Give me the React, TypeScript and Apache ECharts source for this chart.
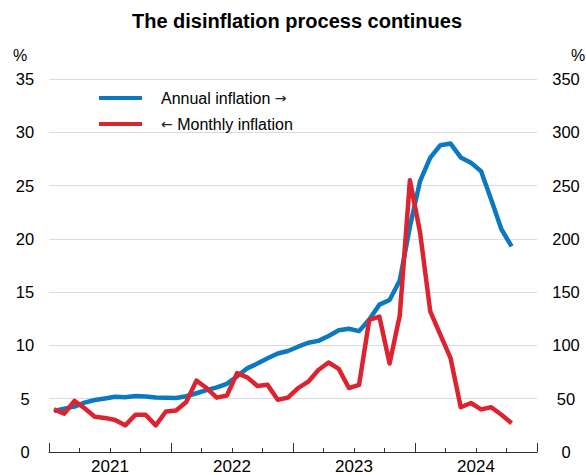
import React, { useEffect, useRef } from "react";
import * as echarts from "echarts";

// Months starting January 2021 (index 0) to October 2024
const monthlyInflation = [
  4.0, 3.6, 4.8, 4.1, 3.3, 3.2, 3.0, 2.5, 3.5, 3.5, 2.5, 3.8,
  3.9, 4.7, 6.7, 6.0, 5.1, 5.3, 7.4, 7.0, 6.2, 6.3, 4.9, 5.1,
  6.0, 6.6, 7.7, 8.4, 7.8, 6.0, 6.3, 12.4, 12.7, 8.3, 12.8, 25.5,
  20.6, 13.2, 11.0, 8.8, 4.2, 4.6, 4.0, 4.2, 3.5, 2.7,
];
const annualInflation = [
  38.5, 40.7, 42.6, 46.3, 48.8, 50.2, 51.8, 51.4, 52.5, 52.1, 51.2, 50.9,
  50.7, 52.3, 55.1, 58.0, 60.7, 64.0, 71.0, 78.5, 83.0, 88.0, 92.4, 94.8,
  98.8, 102.5, 104.3, 108.8, 114.2, 115.6, 113.4, 124.4, 138.3, 142.7, 160.9, 211.4,
  254.2, 276.2, 287.9, 289.4, 276.4, 271.5, 263.4, 236.7, 209.0, 193.0,
];
const yearLabels = ["2021", "2022", "2023", "2024"];
const seriesNames = ["Annual inflation →", "← Monthly inflation"];
const titleText = "The disinflation process continues";

const FONT = "'Liberation Sans', Arial, Helvetica, sans-serif";
const BLUE = "#0b79bf";
const RED = "#dc2430";

export default function App() {
  const ref = useRef<HTMLDivElement>(null);
  useEffect(() => {
    if (!ref.current) return;
    const chart = echarts.init(ref.current, undefined, { renderer: "svg" });
    const yearLabelAt: Record<number, string> = {};
    yearLabels.forEach((y, i) => {
      yearLabelAt[6 + i * 12] = y;
    });
    const legendFormatter = (name: string) =>
      name.replace(/(→|←)/g, (m) => `{arr|${m}}`);
    chart.setOption({
      animation: false,
      backgroundColor: "#ffffff",
      textStyle: { fontFamily: FONT },
      graphic: [
        {
          type: "text",
          x: 297,
          y: 21,
          style: {
            text: titleText,
            font: `bold 20px ${FONT}`,
            fill: "#000",
            textAlign: "center",
            textVerticalAlign: "middle",
          },
        },
        {
          type: "text",
          x: 20,
          y: 55,
          style: { text: "%", font: `16px ${FONT}`, fill: "#000", textAlign: "center", textVerticalAlign: "middle" },
        },
        {
          type: "text",
          x: 578,
          y: 55,
          style: { text: "%", font: `16px ${FONT}`, fill: "#000", textAlign: "center", textVerticalAlign: "middle" },
        },
      ],
      legend: {
        orient: "vertical",
        left: 94,
        top: 83,
        icon: "rect",
        itemWidth: 43,
        itemHeight: 4,
        itemGap: 6,
        data: seriesNames,
        formatter: legendFormatter,
        textStyle: {
          fontSize: 16,
          lineHeight: 20,
          color: "#000",
          fontFamily: FONT,
          padding: [0, 0, 0, 14],
          rich: {
            arr: { fontFamily: "'DejaVu Sans'", fontSize: 14, lineHeight: 20, color: "#222" },
          },
        },
      },
      grid: { left: 49, right: 49, top: 79, bottom: 22, containLabel: false },
      xAxis: [
        {
          type: "value",
          min: 0,
          max: 48,
          interval: 3,
          axisLine: { show: true, lineStyle: { color: "#333", width: 1 } },
          axisTick: { show: true, inside: true, length: 4, lineStyle: { color: "#333" } },
          axisLabel: {
            fontSize: 17,
            color: "#000",
            margin: 6,
            formatter: (v: number) => yearLabelAt[v] || "",
          },
          splitLine: { show: false },
        },
        {
          type: "value",
          min: 0,
          max: 48,
          interval: 12,
          position: "bottom",
          axisLine: { show: false },
          axisTick: { show: true, inside: true, length: 9, lineStyle: { color: "#333" } },
          axisLabel: { show: false },
          splitLine: { show: false },
        },
      ],
      yAxis: [
        {
          type: "value",
          min: 0,
          max: 35,
          interval: 5,
          position: "left",
          axisLine: { show: false },
          axisTick: { show: false },
          axisLabel: { fontSize: 16.5, color: "#000", align: "center", margin: 24 },
          splitLine: { show: true, lineStyle: { color: "#dcdcdc", width: 1 } },
        },
        {
          type: "value",
          min: 0,
          max: 350,
          interval: 50,
          position: "right",
          axisLine: { show: false },
          axisTick: { show: false },
          axisLabel: { fontSize: 16.5, color: "#000", align: "center", margin: 29 },
          splitLine: { show: false },
        },
      ],
      series: [
        {
          name: seriesNames[0],
          type: "line",
          xAxisIndex: 0,
          yAxisIndex: 1,
          symbol: "none",
          color: BLUE,
          lineStyle: { width: 4.5, color: BLUE, join: "round" },
          data: annualInflation.map((v, i) => [i + 0.5, v]),
          z: 2,
        },
        {
          name: seriesNames[1],
          type: "line",
          xAxisIndex: 0,
          yAxisIndex: 0,
          symbol: "none",
          color: RED,
          lineStyle: { width: 4.5, color: RED, join: "round" },
          data: monthlyInflation.map((v, i) => [i + 0.5, v]),
          z: 3,
        },
      ],
    });
    return () => chart.dispose();
  }, []);
  return (
    <div
      ref={ref}
      style={{ position: "fixed", left: 0, top: 0, width: 586, height: 475, background: "#fff" }}
    />
  );
}
